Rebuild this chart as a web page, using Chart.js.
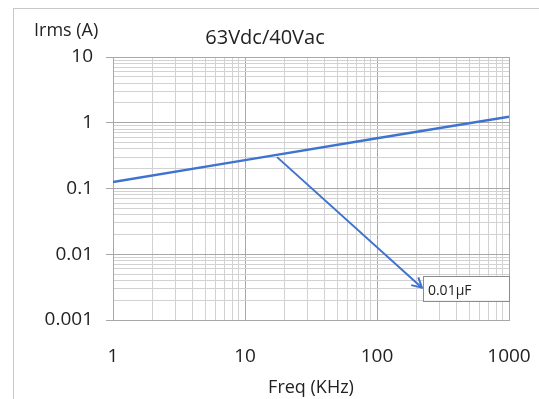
<!DOCTYPE html>
<html>
<head>
<meta charset="utf-8">
<script src="https://cdn.jsdelivr.net/npm/chart.js@4.4.1/dist/chart.umd.min.js"></script>
<style>
  html, body { margin: 0; padding: 0; background: #fff; }
  #wrap { width: 539px; height: 399px; position: relative; }
</style>
</head>
<body>
<div id="wrap"><canvas id="chart" width="539" height="399"></canvas></div>
<script>
// data
const freq = [1, 10, 100, 1000];
const irms = [0.125, 0.27, 0.58, 1.23];
const xTicks = [1, 10, 100, 1000];
const xTickLabels = ['1', '10', '100', '1000'];
const yTicks = [0.001, 0.01, 0.1, 1, 10];
const yTickLabels = ['0.001', '0.01', '0.1', '1', '10'];
const arrowFreq = [17.5, 219];
const arrowIrms = [0.3, 0.0031];
const noteText = '0.01µF';
const titleText = '63Vdc/40Vac';
const yTitle = 'Irms (A)';
const xTitle = 'Freq (KHz)';

const FONT = "'Open Sans', sans-serif";
const BLUE = '#3f73d0';
const GRID_MAJOR = '#a8a8a8';
const GRID_MINOR = '#d2d2d2';

function logTicks(majors) {
    const t = [];
    majors.forEach((m, i) => {
        t.push({ value: m, major: true });
        if (i < majors.length - 1) {
            for (let k = 2; k < 10; k++) t.push({ value: +(m * k).toPrecision(6), major: false });
        }
    });
    return t;
}

function labelFor(majors, labels) {
    return function (value, index, ticks) {
        if (!ticks[index].major) return '';
        const i = majors.indexOf(value);
        return i >= 0 ? labels[i] : '';
    };
}

// frame, titles, arrow head and the note box
const extras = {
    id: 'extras',
    beforeDraw(chart) {
        const ctx = chart.ctx;
        ctx.save();
        ctx.fillStyle = '#fff';
        ctx.fillRect(0, 0, chart.width, chart.height);
        ctx.strokeStyle = '#c8c8c8';
        ctx.lineWidth = 1;
        ctx.strokeRect(13.5, 8.5, 700, 600);
        ctx.restore();
    },
    afterDraw(chart) {
        const ctx = chart.ctx;
        const xs = chart.scales.x, ys = chart.scales.y;
        ctx.save();
        ctx.fillStyle = '#222';
        ctx.textBaseline = 'middle';
        ctx.font = '20px ' + FONT;
        ctx.textAlign = 'center';
        ctx.fillText(titleText, (xs.left + xs.right) / 2 - 46, 38);
        ctx.font = '18px ' + FONT;
        ctx.textAlign = 'left';
        ctx.fillText(yTitle, 34, 31);

        // arrow head at the end of the arrow dataset
        const x0 = xs.getPixelForValue(arrowFreq[0]), y0 = ys.getPixelForValue(arrowIrms[0]);
        const x1 = xs.getPixelForValue(arrowFreq[1]), y1 = ys.getPixelForValue(arrowIrms[1]);
        const ang = Math.atan2(y1 - y0, x1 - x0);
        const len = 11, spread = 0.5;
        ctx.strokeStyle = BLUE;
        ctx.lineWidth = 2;
        ctx.beginPath();
        ctx.moveTo(x1 - len * Math.cos(ang - spread), y1 - len * Math.sin(ang - spread));
        ctx.lineTo(x1, y1);
        ctx.lineTo(x1 - len * Math.cos(ang + spread), y1 - len * Math.sin(ang + spread));
        ctx.stroke();

        // note box next to the arrow tip
        const bx = x1 + 1, by = y1 - 12, bw = xs.right - bx, bh = 25;
        ctx.fillStyle = '#fff';
        ctx.fillRect(bx, by, bw, bh);
        ctx.strokeStyle = '#8c8c8c';
        ctx.lineWidth = 1;
        ctx.strokeRect(Math.round(bx) + 0.5, Math.round(by) + 0.5, Math.round(bw), bh);
        ctx.fillStyle = '#222';
        ctx.font = '14px ' + FONT;
        ctx.textAlign = 'left';
        ctx.fillText(noteText, bx + 5, by + 15);
        ctx.restore();
    }
};

new Chart(document.getElementById('chart'), {
    type: 'line',
    data: {
        datasets: [{
            data: freq.map((f, i) => ({ x: f, y: irms[i] })),
            borderColor: BLUE,
            borderWidth: 2.5,
            pointRadius: 0,
            tension: 0
        }, {
            data: arrowFreq.map((f, i) => ({ x: f, y: arrowIrms[i] })),
            borderColor: BLUE,
            borderWidth: 2,
            pointRadius: 0,
            tension: 0
        }]
    },
    options: {
        responsive: false,
        animation: false,
        layout: { padding: { left: 0, right: 30, top: 57, bottom: 0 } },
        plugins: {
            legend: { display: false },
            tooltip: { enabled: false }
        },
        scales: {
            x: {
                type: 'logarithmic',
                min: 1,
                max: 1000,
                afterBuildTicks: (s) => { s.ticks = logTicks(xTicks); },
                afterFit: (s) => { s.height = 79; s.paddingLeft = 0; s.paddingRight = 0; },
                grid: {
                    drawTicks: false,
                    color: (c) => c.tick && c.tick.major ? GRID_MAJOR : GRID_MINOR,
                    lineWidth: 1
                },
                border: { color: GRID_MAJOR },
                ticks: {
                    autoSkip: false,
                    maxRotation: 0,
                    padding: 25,
                    color: '#222',
                    font: { family: FONT, size: 19 },
                    callback: labelFor(xTicks, xTickLabels)
                },
                title: {
                    display: true,
                    text: xTitle,
                    color: '#222',
                    font: { family: FONT, size: 18 },
                    padding: { top: 0, bottom: 0 }
                }
            },
            y: {
                type: 'logarithmic',
                min: 0.001,
                max: 10,
                afterBuildTicks: (s) => { s.ticks = logTicks(yTicks); },
                afterFit: (s) => { s.width = 113; s.paddingTop = 0; s.paddingBottom = 0; },
                grid: {
                    tickLength: 7,
                    tickColor: (c) => c.tick && c.tick.major ? GRID_MAJOR : 'rgba(0,0,0,0)',
                    color: (c) => c.tick && c.tick.major ? GRID_MAJOR : GRID_MINOR,
                    lineWidth: 1
                },
                border: { color: GRID_MAJOR },
                ticks: {
                    autoSkip: false,
                    padding: 13,
                    color: '#222',
                    font: { family: FONT, size: 19 },
                    callback: labelFor(yTicks, yTickLabels)
                }
            }
        }
    },
    plugins: [extras]
});
</script>
</body>
</html>
